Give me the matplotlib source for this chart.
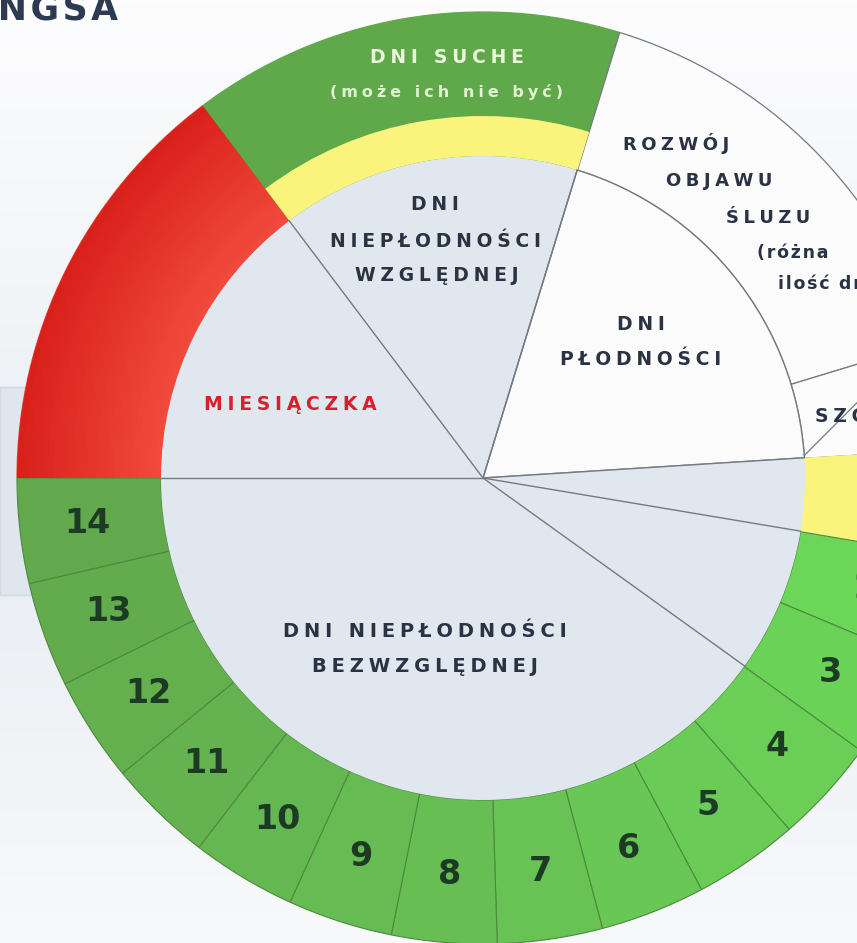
import numpy as np
import matplotlib.pyplot as plt
from matplotlib.patches import Wedge, Rectangle
from matplotlib.colors import to_rgb

# outer ring, clockwise from 9 o'clock (spans in degrees)
ring_labels = ['MIESIĄCZKA', 'DNI SUCHE', 'ROZWÓJ OBJAWU ŚLUZU', 'SZCZYT']
ring_spans = [53, 54, 56, 13.4]
day_numbers = list(range(1, 15))
day_spans = [13.1] * 14

# inner disc, clockwise from 9 o'clock
inner_labels = ['MIESIĄCZKA', 'DNI NIEPŁODNOŚCI WZGLĘDNEJ', 'DNI PŁODNOŚCI',
                'SZCZYT', 'PO SZCZYCIE', 'DNI NIEPŁODNOŚCI BEZWZGLĘDNEJ']
inner_spans = [53, 54, 69.4, 13.1, 26.2, 144.3]

W, H = 857, 943
CX, CY = 483, 478          # circle centre in picture pixels
R_OUT, R_IN, R_YEL = 466, 322, 362

RED_IN, RED_OUT = '#f04a3c', '#d9211b'
DRY = '#5fa94b'
WHITE = '#fbfbfb'
YELLOW = '#fbf47c'
LIGHT = '#e1e7ef'
LINE = '#737a84'
NAVY = '#2a3344'


def px(x, y):
    # picture pixel -> data coords (centre at 0,0, y up)
    return x - CX, CY - y


def spaced(s, gap='\u2005'):
    return gap.join(s)


fig = plt.figure(figsize=(W / 100, H / 100), dpi=100)
ax = fig.add_axes([0, 0, 1, 1])
xlim = (-CX, W - CX)
ylim = (CY - H, CY)

# soft background
stops = [(0, '#fdfdfe'), (0.3, '#f3f5f8'), (0.55, '#e8ecf1'), (1.0, '#f8f9fb')]
ys = np.linspace(0, 1, 200)
grad = np.zeros((200, 1, 3))
for k in range(3):
    grad[:, 0, k] = np.interp(ys, [s[0] for s in stops], [to_rgb(s[1])[k] for s in stops])
ax.imshow(grad, extent=(xlim[0], xlim[1], ylim[0], ylim[1]), aspect='auto', zorder=0)
x0, y0 = px(0, 595)
ax.add_patch(Rectangle((x0, y0), 60, 208, facecolor='#e0e6ee', edgecolor='#d3d9e2', lw=1, zorder=1))

# day colours: darker on the left, brighter on the right
c_dark, c_bright = np.array(to_rgb('#62a84d')), np.array(to_rgb('#6cd659'))
day_colors = [YELLOW] + [tuple(c_bright + (c_dark - c_bright) * i / 12) for i in range(13)]

ring_colors = [RED_IN, DRY, WHITE, WHITE] + day_colors
wedges, _ = ax.pie(ring_spans + day_spans, radius=R_OUT, startangle=180, counterclock=False,
                   colors=ring_colors,
                   wedgeprops=dict(width=R_OUT - R_IN, linewidth=0.9, edgecolor=LINE))
for w, c in zip(wedges, ring_colors):
    w.set_zorder(2)
    if c == WHITE:
        w.set_edgecolor(LINE)
    elif c in (RED_IN, DRY, YELLOW):
        w.set_edgecolor(c)
    else:
        w.set_edgecolor('#4d8a3e')
        w.set_linewidth(0.8)

# red shading, lighter towards the middle
red = wedges[0]
r_in_c, r_out_c = np.array(to_rgb(RED_IN)), np.array(to_rgb(RED_OUT))
steps = 24
for i in range(steps):
    r1 = R_IN + (R_OUT - R_IN) * (i + 1) / steps
    col = r_in_c + (r_out_c - r_in_c) * i / (steps - 1)
    ax.add_patch(Wedge((0, 0), r1, red.theta1, red.theta2, width=(R_OUT - R_IN) / steps + 0.6,
                       facecolor=col, edgecolor='none', zorder=2.5))

# yellow band under the dry days
dry = wedges[1]
ax.add_patch(Wedge((0, 0), R_YEL, dry.theta1, dry.theta2, width=R_YEL - R_IN,
                   facecolor=YELLOW, edgecolor='none', zorder=3))

inner_colors = [LIGHT, LIGHT, WHITE, LIGHT, LIGHT, LIGHT]
iw, _ = ax.pie(inner_spans, radius=R_IN, startangle=180, counterclock=False,
               colors=inner_colors, wedgeprops=dict(linewidth=0))
for w, c in zip(iw, inner_colors):
    w.set_zorder(4)
    if c == WHITE:
        w.set_edgecolor(LINE)
        w.set_linewidth(1)
    # spoke at the start of each sector
    a = np.radians(w.theta2)
    ax.plot([0, R_IN * np.cos(a)], [0, R_IN * np.sin(a)], color=LINE, lw=1, zorder=5)

# small divider under the peak label
th = np.radians(wedges[3].theta1 + 0.5)
p0 = np.array([R_IN * np.cos(th), R_IN * np.sin(th)])
ax.plot([p0[0], p0[0] + 90], [p0[1], p0[1] + 90], color=LINE, lw=0.9, zorder=5)

# day numbers
for w, d in zip(wedges[len(ring_spans):], day_numbers):
    if d == 1:
        continue
    a = np.radians((w.theta1 + w.theta2) / 2)
    ax.text(398 * np.cos(a), 398 * np.sin(a), str(d), ha='center', va='center',
            fontsize=24, fontweight='bold', color='#1c3a24', zorder=6)

bold = dict(fontweight='bold', ha='center', va='baseline', zorder=6, family='DejaVu Sans')
texts = [
    ('DNI SUCHE', 447, 63, 13.5, '#e9f5dc'),
    ('(może ich nie być)', 447, 97, 11.5, '#e2f1d2'),
    ('DNI', 435, 210, 13.5, NAVY),
    ('NIEPŁODNOŚCI', 435, 247, 13.5, NAVY),
    ('WZGLĘDNEJ', 437, 281, 13.5, NAVY),
    ('MIESIĄCZKA', 290, 410, 13.5, '#d81f2c'),
    ('DNI', 641, 330, 13.5, NAVY),
    ('PŁODNOŚCI', 641, 365, 13.5, NAVY),
    ('ROZWÓJ', 676, 150, 13, NAVY),
    ('OBJAWU', 719, 186, 13, NAVY),
    ('ŚLUZU', 768, 223, 13, NAVY),
    ('DNI NIEPŁODNOŚCI', 425, 637, 14, NAVY),
    ('BEZWZGLĘDNEJ', 425, 672, 14, NAVY),
]
for s, x, y, fs, col in texts:
    ax.text(*px(x, y), spaced(s), fontsize=fs, color=col, **bold)

ax.text(*px(757, 258), spaced('(różna', '\u200a'), fontsize=12.5, color=NAVY,
        fontweight='bold', ha='left', va='baseline', zorder=6)
ax.text(*px(778, 289), spaced('ilość dni)', '\u200a'), fontsize=12.5, color=NAVY,
        fontweight='bold', ha='left', va='baseline', zorder=6)
ax.text(*px(815, 422), spaced('SZCZYT'), fontsize=13.5, color=NAVY, fontweight='bold',
        ha='left', va='baseline', zorder=6)

# title, cut by the top-left corner
ax.text(*px(118, 20), spaced('METODA BILLINGSA', '\u200a'), fontsize=25, color='#2c3a52',
        fontweight='bold', ha='right', va='baseline', zorder=6)

ax.set_xlim(*xlim)
ax.set_ylim(*ylim)
ax.set_aspect('equal')
ax.axis('off')

fig.savefig('out.png', dpi=100)
